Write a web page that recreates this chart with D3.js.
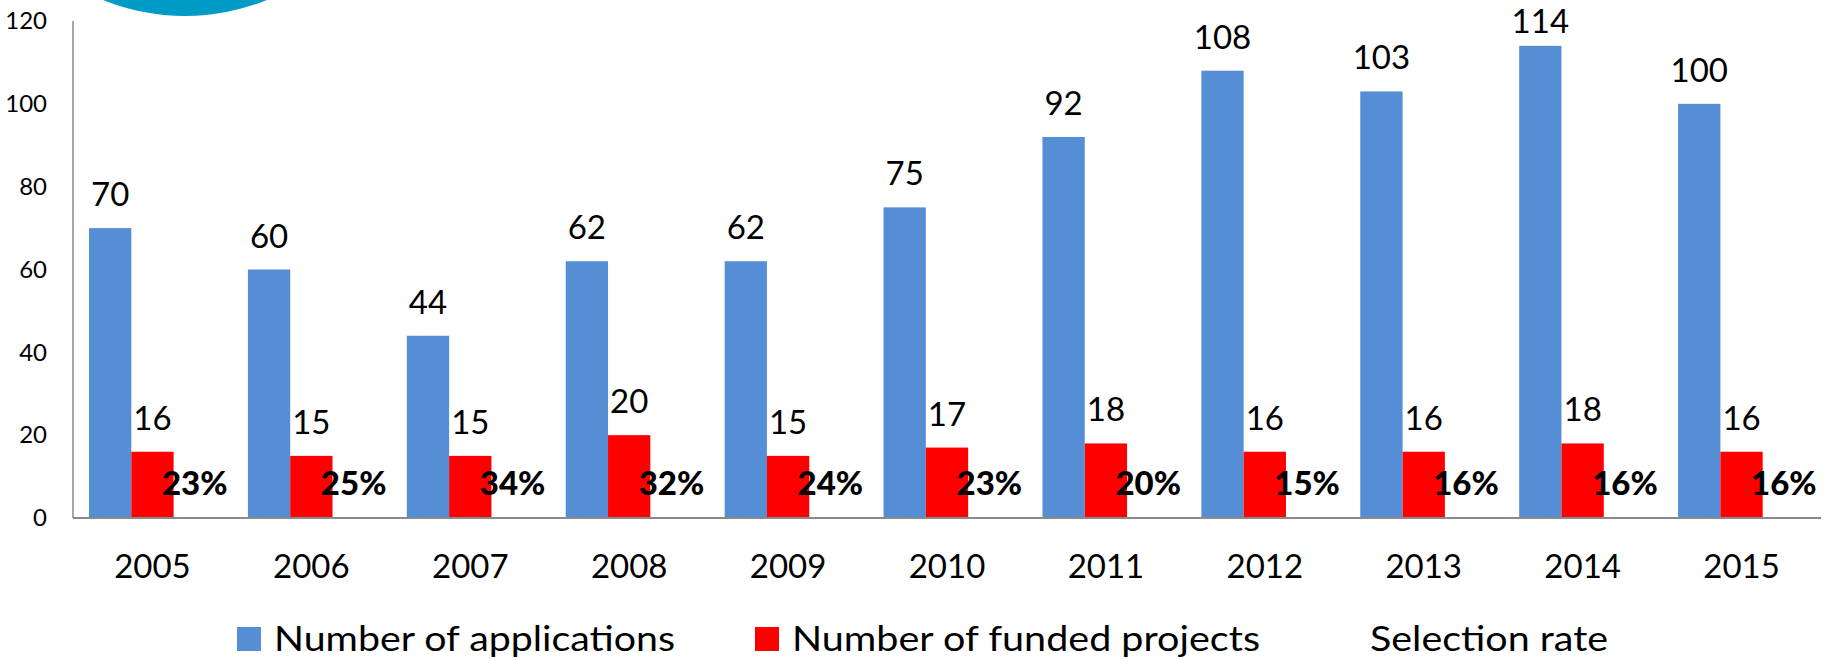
<!DOCTYPE html>
<html>
<head>
<meta charset="utf-8">
<script src="https://cdn.jsdelivr.net/npm/d3@7"></script>
<style>
  html, body { margin: 0; padding: 0; background: #ffffff; }
  svg { display: block; }
  text { font-family: Lato, "Open Sans", sans-serif; }
</style>
</head>
<body>
<svg id="chart" width="1831" height="660"></svg>
<script>
// ---- data ----
const years = ["2005","2006","2007","2008","2009","2010","2011","2012","2013","2014","2015"];
const applications = [70, 60, 44, 62, 62, 75, 92, 108, 103, 114, 100];
const fundedProjects = [16, 15, 15, 20, 15, 17, 18, 16, 16, 18, 16];
const selectionRate = [0.23, 0.25, 0.34, 0.32, 0.24, 0.23, 0.20, 0.15, 0.16, 0.16, 0.16];
const seriesNames = ["Number of applications", "Number of funded projects", "Selection rate"];
const yTicks = [0, 20, 40, 60, 80, 100, 120];

// ---- layout ----
const W = 1831, H = 660;
const plot = { left: 73, right: 1821, top: 21, bottom: 518 };
const colors = ["#558ed5", "#ff0000", "none"];

const svg = d3.select("#chart");

// decorative circle at top-left
svg.append("circle")
  .attr("cx", 185).attr("cy", -202).attr("r", 218)
  .attr("fill", "#009bc6");

const y = d3.scaleLinear().domain([0, 120]).range([plot.bottom, plot.top]);
const x0 = d3.scaleBand().domain(years).range([plot.left, plot.right]);
const x1 = d3.scaleBand().domain(seriesNames).range([16, x0.bandwidth() - 16]);

const rows = years.map((yr, i) => ({
  year: yr,
  values: [
    { key: seriesNames[0], v: applications[i], label: String(applications[i]), bold: false },
    { key: seriesNames[1], v: fundedProjects[i], label: String(fundedProjects[i]), bold: false },
    { key: seriesNames[2], v: selectionRate[i], label: Math.round(selectionRate[i] * 100) + "%", bold: true }
  ]
}));

// y axis labels
const yAxis = d3.axisLeft(y).tickValues(yTicks).tickSize(0).tickPadding(26);
const gy = svg.append("g").attr("transform", `translate(${plot.left},0)`).call(yAxis);
gy.select(".domain").remove();
gy.selectAll("text")
  .attr("font-family", "Lato, sans-serif")
  .attr("font-size", 24)
  .attr("fill", "#000");

// bars
const groups = svg.append("g").selectAll("g")
  .data(rows).join("g")
  .attr("transform", d => `translate(${x0(d.year)},0)`);

groups.selectAll("rect")
  .data(d => d.values).join("rect")
  .attr("x", d => x1(d.key))
  .attr("y", d => y(d.v))
  .attr("width", x1.bandwidth())
  .attr("height", d => y(0) - y(d.v))
  .attr("fill", (d, i) => colors[i]);

groups.selectAll("text.val")
  .data(d => d.values).join("text")
  .attr("class", "val")
  .attr("x", d => x1(d.key) + x1.bandwidth() / 2)
  .attr("y", d => Math.max(y(d.v) - 22, 33))
  .attr("text-anchor", "middle")
  .attr("font-size", 33)
  .attr("font-weight", d => d.bold ? 900 : 400)
  .attr("fill", "#000")
  .text(d => d.label);

// axis lines
svg.append("line")
  .attr("x1", plot.left).attr("x2", plot.left)
  .attr("y1", plot.top).attr("y2", plot.bottom)
  .attr("stroke", "#8a8a8a").attr("stroke-width", 1.5);
svg.append("line")
  .attr("x1", plot.left).attr("x2", plot.right)
  .attr("y1", plot.bottom).attr("y2", plot.bottom)
  .attr("stroke", "#8a8a8a").attr("stroke-width", 2);

// x axis labels
const xAxis = d3.axisBottom(x0).tickSize(0).tickPadding(0);
const gx = svg.append("g").attr("transform", `translate(0,${plot.bottom})`).call(xAxis);
gx.select(".domain").remove();
gx.selectAll("text")
  .attr("font-family", "Lato, sans-serif")
  .attr("font-size", 33)
  .attr("fill", "#000")
  .attr("dy", null)
  .attr("y", 60);

// legend
const legendX = [237, 755, 1333];
const legendTextW = [401, 468, 238];
const lg = svg.append("g").selectAll("g")
  .data(seriesNames).join("g")
  .attr("transform", (d, i) => `translate(${legendX[i]},627)`);
lg.append("rect")
  .attr("width", 24).attr("height", 24)
  .attr("fill", (d, i) => colors[i]);
lg.append("text")
  .attr("x", 37).attr("y", 24)
  .attr("font-size", 35)
  .attr("fill", "#000")
  .attr("textLength", (d, i) => legendTextW[i])
  .attr("lengthAdjust", "spacingAndGlyphs")
  .text(d => d);
</script>
</body>
</html>
